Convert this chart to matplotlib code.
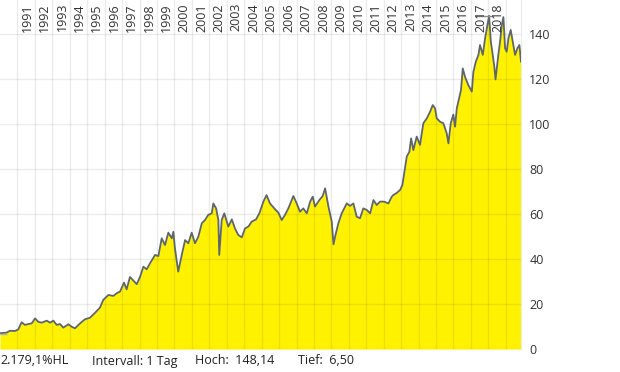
import numpy as np
import matplotlib
matplotlib.use("Agg")
import matplotlib.pyplot as plt
import matplotlib.transforms as mtransforms

plt.rcParams['font.family'] = ['Open Sans', 'DejaVu Sans']

# price readings (decimal year, value)
years = [1990.00, 1990.38, 1990.57, 1990.86, 1991.05, 1991.24, 1991.43, 1991.62, 1991.82,
         1992.01, 1992.20, 1992.39, 1992.68, 1992.87, 1993.06, 1993.25, 1993.44, 1993.63,
         1993.92, 1994.11, 1994.30, 1994.59, 1994.87, 1995.16, 1995.45, 1995.73, 1995.92,
         1996.21, 1996.50, 1996.69, 1996.88, 1997.11, 1997.26, 1997.45, 1997.64, 1997.84,
         1998.03, 1998.22, 1998.41, 1998.60, 1998.89, 1999.08, 1999.27, 1999.46, 1999.65,
         1999.85, 1999.94, 2000.03, 2000.22, 2000.42, 2000.61, 2000.80, 2000.99, 2001.18,
         2001.37, 2001.57, 2001.75, 2001.94, 2002.14, 2002.23, 2002.39, 2002.52, 2002.57,
         2002.71, 2002.86, 2003.09, 2003.29, 2003.47, 2003.66, 2003.86, 2004.05, 2004.24,
         2004.43, 2004.68, 2004.87, 2005.10, 2005.28, 2005.48, 2005.77, 2005.96, 2006.15,
         2006.34, 2006.53, 2006.82, 2007.01, 2007.20, 2007.39, 2007.59, 2007.78, 2007.93,
         2008.06, 2008.31, 2008.50, 2008.64, 2008.83, 2009.02, 2009.12, 2009.21, 2009.40,
         2009.59, 2009.88, 2010.07, 2010.26, 2010.45, 2010.64, 2010.83, 2011.03, 2011.22,
         2011.41, 2011.60, 2011.79, 2012.02, 2012.27, 2012.46, 2012.55, 2012.75, 2012.94,
         2013.07, 2013.22, 2013.32, 2013.47, 2013.57, 2013.70, 2013.89, 2014.08, 2014.27,
         2014.47, 2014.66, 2014.81, 2014.94, 2015.04, 2015.23, 2015.42, 2015.61, 2015.71,
         2015.84, 2015.99, 2016.09, 2016.19, 2016.32, 2016.43, 2016.53, 2016.66, 2016.85,
         2017.05, 2017.14, 2017.28, 2017.43, 2017.52, 2017.68, 2017.81, 2017.91, 2018.04,
         2018.14, 2018.25, 2018.34, 2018.41, 2018.57, 2018.67, 2018.77, 2018.86, 2018.96,
         2019.05, 2019.15, 2019.28, 2019.40, 2019.53, 2019.66, 2019.78, 2019.87]
prices = [7.0, 7.3, 8.1, 8.0, 8.7, 11.9, 10.7, 11.1, 11.4,
          13.6, 12.1, 11.7, 12.6, 11.7, 12.6, 10.7, 11.1, 9.5,
          11.0, 9.9, 9.2, 11.4, 13.2, 13.9, 16.1, 18.4, 21.8,
          24.0, 23.6, 24.8, 25.5, 29.5, 26.5, 32.0, 30.5, 28.8,
          32.1, 36.6, 35.4, 38.1, 41.8, 41.3, 49.2, 46.2, 51.7,
          49.2, 52.1, 44.7, 34.4, 41.8, 48.4, 47.0, 51.7, 47.0,
          49.9, 55.9, 57.3, 59.6, 60.3, 64.7, 62.5, 57.3, 41.8,
          57.3, 60.3, 54.4, 57.6, 53.6, 50.7, 49.6, 53.6, 54.4,
          56.6, 57.6, 60.3, 65.5, 68.4, 64.7, 62.1, 60.6, 57.3,
          59.6, 62.5, 68.0, 64.7, 61.0, 62.5, 60.3, 65.5, 67.7,
          63.3, 66.2, 68.0, 71.4, 63.3, 56.6, 46.5, 49.9, 55.9,
          60.3, 64.7, 63.6, 64.7, 58.8, 58.1, 62.5, 61.8, 60.3,
          66.2, 64.0, 65.5, 65.5, 64.7, 67.7, 68.4, 69.4, 70.7,
          72.9, 80.3, 85.5, 87.7, 93.6, 88.4, 94.4, 90.7, 100.3,
          102.5, 105.5, 108.4, 107.0, 102.5, 101.0, 100.3, 95.9, 91.4,
          100.3, 104.2, 98.8, 107.0, 111.4, 115.1, 124.7, 121.0, 117.3,
          114.4, 123.2, 127.7, 130.7, 135.1, 130.7, 138.1, 142.5, 148.1,
          136.6, 130.7, 125.5, 119.8, 130.7, 136.6, 144.0, 147.5, 133.6,
          132.1, 138.1, 141.8, 136.6, 130.7, 133.6, 135.1, 127.7]

year_labels = list(range(1991, 2019))
yticks = [0, 20, 40, 60, 80, 100, 120, 140]
hoch = 148.14
tief = 6.50
footer = ["2.179,1%HL", "Intervall: 1 Tag", "Hoch:  148,14", "Tief:  6,50"]

fig = plt.figure(figsize=(6.2, 3.72), dpi=100)
ax = fig.add_axes([0, 23 / 372, 521 / 620, 349 / 372])

ax.fill_between(years, prices, 0, color='#fff200', lw=0, zorder=1)
ax.plot(years, prices, color='#5d666c', lw=1.3, zorder=3)

# high / low markers
imax = int(np.argmax(prices))
ax.hlines(hoch, years[imax] - 0.8, years[imax] + 0.2, color='#8c8c8c', lw=1, zorder=3)
ax.hlines(tief, years[0], years[0] + 0.4, color='#b0b0b0', lw=1, zorder=3)

ax.set_xlim(1990.0, 2019.87)
ax.set_ylim(0, 155.1)
ax.set_xticks(range(1991, 2020))
ax.set_yticks(yticks)
ax.set_xticklabels([])
ax.yaxis.tick_right()
ax.tick_params(axis='y', length=0, pad=6, labelsize=9, labelcolor='#333333')
ax.tick_params(axis='x', length=0)
ax.set_axisbelow('line')
ax.grid(True, color='black', alpha=0.08, lw=1)

for s in ['top', 'left', 'bottom']:
    ax.spines[s].set_visible(False)
ax.spines['right'].set_color('#ebebeb')

trans = mtransforms.blended_transform_factory(ax.transData, ax.transAxes)
for y in year_labels:
    ax.text(y + 0.55, 1 - 3 / 349, str(y), transform=trans, rotation=90,
            ha='center', va='top', fontsize=9, color='#333333')

for txt, xp in zip(footer, [0, 92, 195, 298]):
    fig.text(xp / 620, 11 / 372, txt, ha='left', va='center', fontsize=9, color='#222222')

fig.savefig("out.png", dpi=100)
